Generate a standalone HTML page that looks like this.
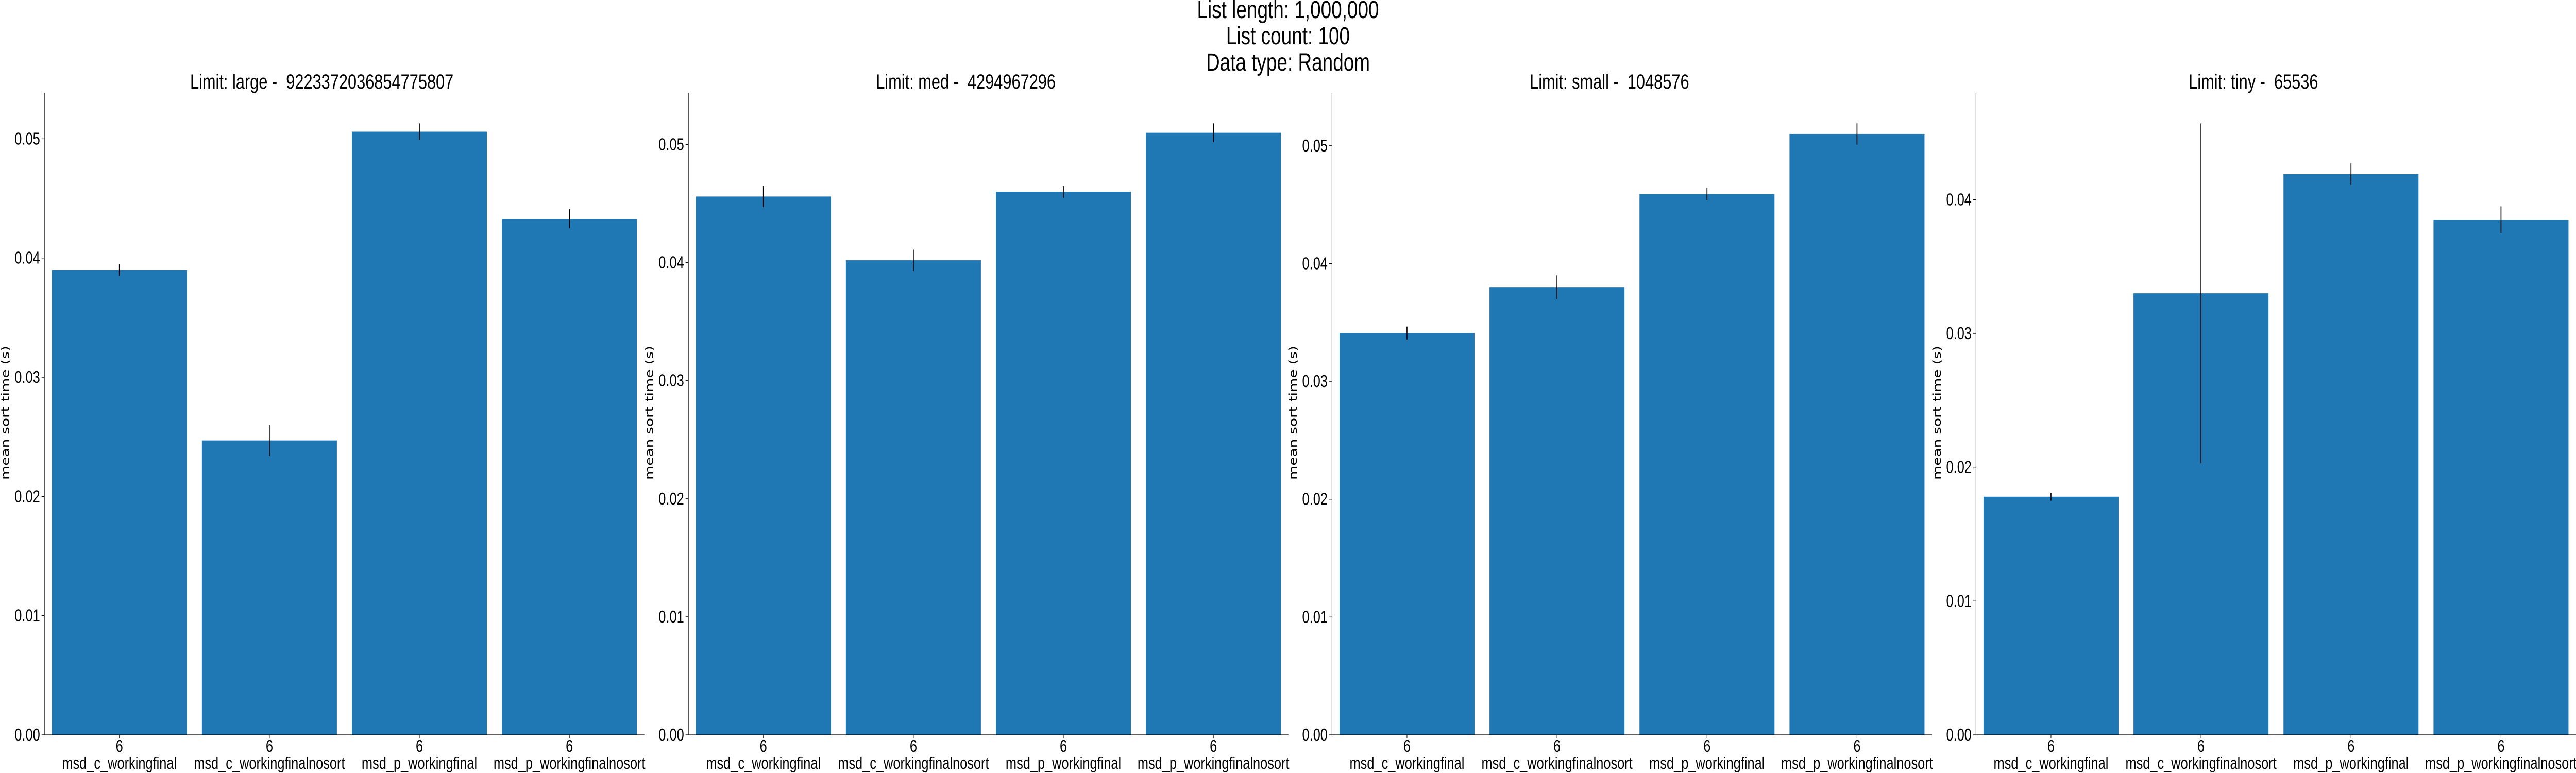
<!DOCTYPE html>
<html><head><meta charset="utf-8">
<style>
html,body{margin:0;padding:0;background:#fff;overflow:hidden;}
svg{display:block;width:100vw;height:100vh;}
text{font-family:"Liberation Sans",sans-serif;fill:#000;white-space:pre;}
</style></head>
<body>
<svg id="chart" viewBox="0 0 6500 1500" preserveAspectRatio="none" xmlns="http://www.w3.org/2000/svg">
<g>
<text x="3250" y="35" font-size="48" text-anchor="middle">List length: 1,000,000</text>
<text x="3250" y="86" font-size="48" text-anchor="middle">List count: 100</text>
<text x="3250" y="137" font-size="48" text-anchor="middle">Data type: Random</text>
</g>
</svg>
<script>
const categories = ["msd_c_workingfinal","msd_c_workingfinalnosort","msd_p_workingfinal","msd_p_workingfinalnosort"];
const countLabels = ["6","6","6","6"];
const panelTitles = ["Limit: large -  9223372036854775807","Limit: med -  4294967296","Limit: small -  1048576","Limit: tiny -  65536"];
const valuesLarge = [0.0390,0.0247,0.0506,0.0433];
const errLarge = [0.0005,0.0013,0.0007,0.0008];
const valuesMed = [0.0456,0.0402,0.0460,0.0510];
const errMed = [0.0009,0.0009,0.0005,0.0008];
const valuesSmall = [0.0341,0.0380,0.0459,0.0510];
const errSmall = [0.00055,0.0010,0.0005,0.0009];
const valuesTiny = [0.0178,0.0330,0.0419,0.0385];
const errTiny = [0.0003,0.0127,0.0008,0.0010];
const yTicks = [0.00,0.01,0.02,0.03,0.04,0.05];
const yTickLabels = ["0.00","0.01","0.02","0.03","0.04","0.05"];

const NS="http://www.w3.org/2000/svg";
const svgEl=document.getElementById('chart');
function mk(tag,attrs,parent){const e=document.createElementNS(NS,tag);for(const k in attrs)e.setAttribute(k,attrs[k]);parent.appendChild(e);return e;}

const series=[[valuesLarge,errLarge],[valuesMed,errMed],[valuesSmall,errSmall],[valuesTiny,errTiny]];
const panelLefts=[112,1737,3361,4986];
const titleOffsets=[-57,-57,-57,-57];
const PW=1514, PTOP=180, PBOT=1426;

series.forEach((s,p)=>{
  const vals=s[0], errs=s[1];
  let ymax=0; vals.forEach((v,i)=>{ymax=Math.max(ymax,v+errs[i]);}); ymax*=1.05;
  const L=panelLefts[p];
  const y=v=>PBOT-(v/ymax)*(PBOT-PTOP);
  const step=PW/categories.length;
  const x=i=>L+step*(i+0.5);
  const g=mk('g',{},svgEl);
  
  
  const t=mk('text',{x:L+PW/2+titleOffsets[p],y:172,'font-size':40,'text-anchor':'middle'},g);
  t.textContent=panelTitles[p];
  
  
  vals.forEach((v,i)=>{
    const bw=step*0.9;
    const r=mk('rect',{x:x(i)-bw/2,y:y(v),width:bw,height:PBOT-y(v),fill:'#1f77b4'},g);
    
    
    const e=mk('line',{x1:x(i),x2:x(i),y1:y(v+errs[i]),y2:y(v-errs[i]),stroke:'#000','stroke-width':2.2},g);
    
    
    mk('line',{x1:x(i),x2:x(i),y1:PBOT,y2:PBOT+7,stroke:'#000','stroke-width':1.3},g);
    const c=mk('text',{x:x(i),y:1459,'font-size':33,'text-anchor':'middle'},g);
    c.textContent=countLabels[i];
    
    
    const cl=mk('text',{x:x(i),y:1492,'font-size':33,'text-anchor':'middle'},g);
    cl.textContent=categories[i];
    
    
  });
  yTicks.forEach((tv,i)=>{
    if(tv>ymax)return;
    mk('line',{x1:L-7,x2:L,y1:y(tv),y2:y(tv),stroke:'#000','stroke-width':1.3},g);
    const tl=mk('text',{x:L-11,y:y(tv)+11,'font-size':33,'text-anchor':'end'},g);
    tl.textContent=yTickLabels[i];
    
    
  });
  const ax=mk('line',{x1:L,x2:L,y1:PTOP,y2:PBOT,stroke:'#000','stroke-width':1.3},g);
  
  
  const bx=mk('line',{x1:L,x2:L+PW,y1:PBOT,y2:PBOT,stroke:'#000','stroke-width':1.3},g);
  
  
  const yl=mk('text',{x:0,y:0,'font-size':28,'text-anchor':'middle',transform:'translate('+(L-89)+',801) rotate(-90)',style:'font-family:"DejaVu Sans",sans-serif'},g);
  yl.textContent='mean sort time (s)';
  
  
});
</script>
</body></html>
